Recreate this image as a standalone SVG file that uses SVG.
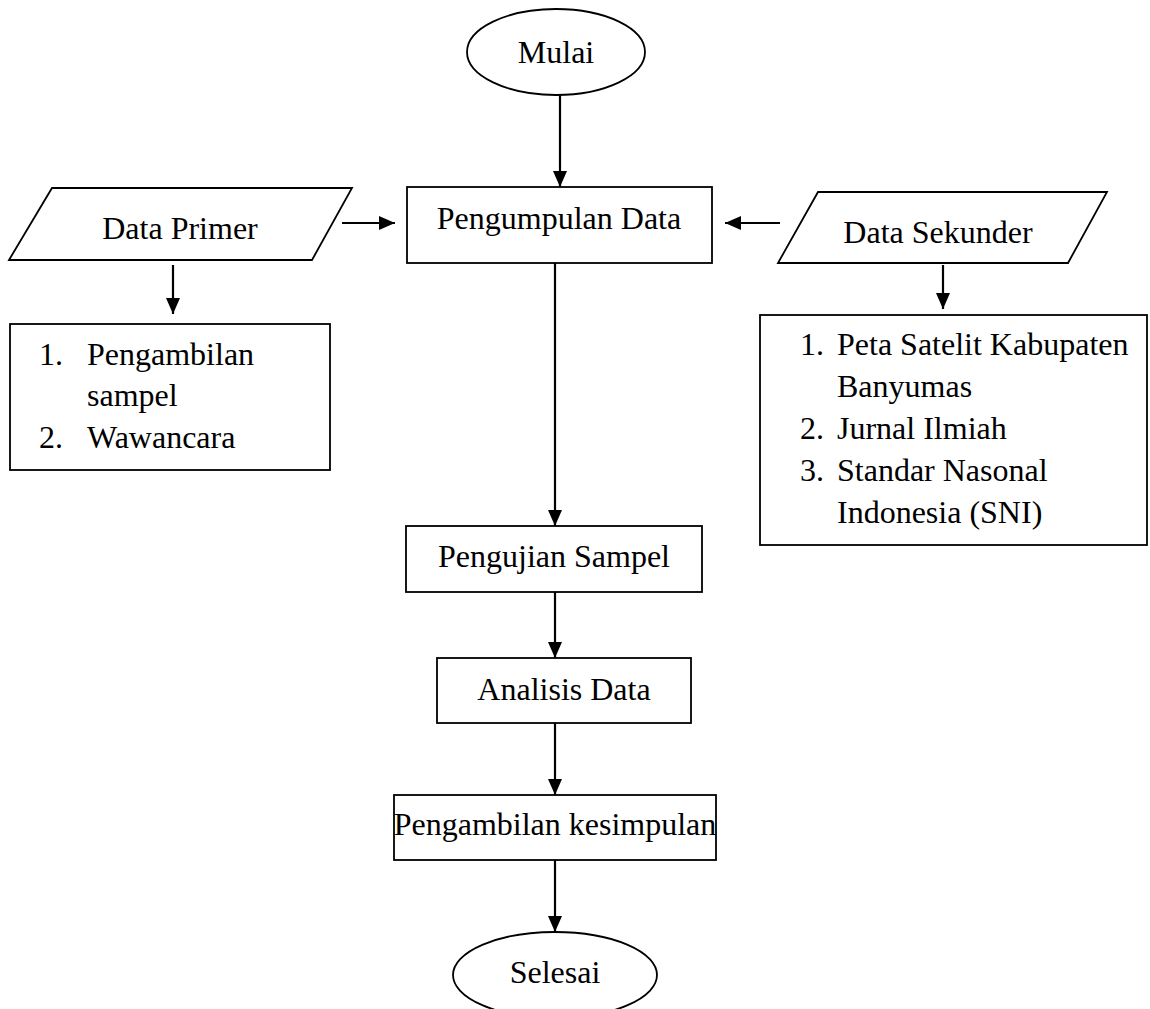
<svg xmlns="http://www.w3.org/2000/svg" width="1150" height="1009" viewBox="0 0 1150 1009">
<style>
.s{fill:#fff;stroke:#000;stroke-width:1.8}
.t{font-family:"Liberation Serif","Times New Roman",serif;font-size:32px;fill:#000}
.c{text-anchor:middle}
.a{stroke:#000;stroke-width:2.2;fill:none;marker-end:url(#ah)}
</style>
<defs>
<marker id="ah" markerUnits="userSpaceOnUse" markerWidth="16" markerHeight="14" refX="16" refY="7" orient="auto">
<path d="M0,0 L16,7 L0,14 z" fill="#000"/>
</marker>
</defs>
<rect width="1150" height="1009" fill="#fff"/>
<g id="connectors">
<line class="a" x1="560" y1="95" x2="560" y2="187"/>
<line class="a" x1="342" y1="223" x2="395" y2="223"/>
<line class="a" x1="780" y1="223" x2="725" y2="223"/>
<line class="a" x1="173" y1="265" x2="173" y2="314"/>
<line class="a" x1="943" y1="265" x2="943" y2="309"/>
<line class="a" x1="555" y1="263" x2="555" y2="526"/>
<line class="a" x1="555" y1="592" x2="555" y2="658"/>
<line class="a" x1="555" y1="723" x2="555" y2="795"/>
<line class="a" x1="555" y1="860" x2="555" y2="932"/>
</g>
<g id="mulai">
<ellipse class="s" cx="556" cy="52" rx="89" ry="43"/>
<text class="t c" x="556" y="63">Mulai</text>
</g>
<g id="pengumpulan">
<rect class="s" x="407" y="187" width="305" height="76"/>
<text class="t c" x="559" y="229">Pengumpulan Data</text>
</g>
<g id="data-primer">
<polygon class="s" points="52,188 352,188 312,260 9,260"/>
<text class="t c" x="180" y="239">Data Primer</text>
</g>
<g id="primer-list">
<rect class="s" x="10" y="324" width="320" height="146"/>
<text class="t" x="39" y="365">1.</text>
<text class="t" x="87" y="365">Pengambilan</text>
<text class="t" x="87" y="406">sampel</text>
<text class="t" x="39" y="448">2.</text>
<text class="t" x="87" y="448">Wawancara</text>
</g>
<g id="data-sekunder">
<polygon class="s" points="818,192 1107,192 1068,263 778,263"/>
<text class="t c" x="938" y="243">Data Sekunder</text>
</g>
<g id="sekunder-list">
<rect class="s" x="760" y="315" width="387" height="230"/>
<text class="t" x="800" y="355">1.</text>
<text class="t" x="837" y="355">Peta Satelit Kabupaten</text>
<text class="t" x="837" y="397">Banyumas</text>
<text class="t" x="800" y="439">2.</text>
<text class="t" x="837" y="439">Jurnal Ilmiah</text>
<text class="t" x="800" y="481">3.</text>
<text class="t" x="837" y="481">Standar Nasonal</text>
<text class="t" x="837" y="523">Indonesia (SNI)</text>
</g>
<g id="pengujian">
<rect class="s" x="406" y="526" width="296" height="66"/>
<text class="t c" x="554" y="567">Pengujian Sampel</text>
</g>
<g id="analisis">
<rect class="s" x="437" y="658" width="254" height="65"/>
<text class="t c" x="564" y="700">Analisis Data</text>
</g>
<g id="kesimpulan">
<rect class="s" x="394" y="795" width="322" height="65"/>
<text class="t c" x="555" y="835">Pengambilan kesimpulan</text>
</g>
<g id="selesai">
<ellipse class="s" cx="555" cy="975" rx="102" ry="43"/>
<text class="t c" x="555" y="983">Selesai</text>
</g>
</svg>
